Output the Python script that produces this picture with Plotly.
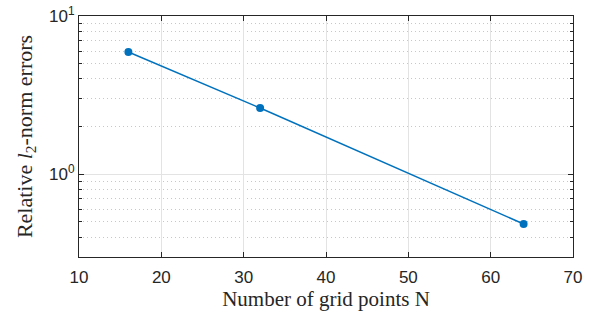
import math
import plotly.graph_objects as go

grid_points = [16, 32, 64]
rel_errors = [5.92, 2.62, 0.485]
x_ticks = [10, 20, 30, 40, 50, 60, 70]
y_ticks = [1, 10]
y_tick_text = ["10<sup>0</sup>", "10<sup>1</sup>"]
y_minor = [0.3, 0.4, 0.5, 0.6, 0.7, 0.8, 0.9, 2, 3, 4, 5, 6, 7, 8, 9]

fig = go.Figure()
fig.add_trace(go.Scatter(
    x=grid_points, y=rel_errors, mode="lines+markers",
    line=dict(color="#0072BD", width=1.5),
    marker=dict(color="#0072BD", size=8),
    showlegend=False,
))

axcol = "#262626"
serif = "Liberation Serif, Times New Roman, serif"
fig.update_layout(
    width=591, height=312,
    margin=dict(l=79, r=18, t=16, b=55, autoexpand=False),
    paper_bgcolor="white", plot_bgcolor="white",
    font=dict(family="Liberation Sans, Arial", color=axcol, size=17),
)
fig.update_xaxes(
    range=[10, 70], tickvals=x_ticks, ticks="inside", ticklen=5,
    tickcolor=axcol, showline=True, linecolor=axcol, linewidth=1, mirror="ticks",
    showgrid=True, gridcolor="#e3e3e3", gridwidth=1, zeroline=False, automargin=False,
    ticklabelstandoff=5,
    title=dict(text="Number of grid points N", font=dict(family=serif, size=21), standoff=2),
    tickfont=dict(size=17),
)
fig.update_yaxes(
    type="log", range=[math.log10(0.3), 1], tickvals=y_ticks, ticktext=y_tick_text,
    ticks="inside", ticklen=5, tickcolor=axcol, showline=True, linecolor=axcol,
    linewidth=1, mirror="ticks", showgrid=True, gridcolor="#e3e3e3", gridwidth=1,
    zeroline=False, automargin=False,
    minor=dict(tickvals=y_minor, ticks="inside", ticklen=3, tickcolor=axcol,
               showgrid=True, gridcolor="#c8c8c8", griddash="1px,3px", gridwidth=1),
    title=dict(text="Relative <i>l</i><sub>2</sub>-norm errors", font=dict(family=serif, size=22), standoff=10),
    tickfont=dict(size=17),
)
fig.write_html("out.html", config={"displayModeBar": False},
               post_script="document.body.style.margin='0';")
